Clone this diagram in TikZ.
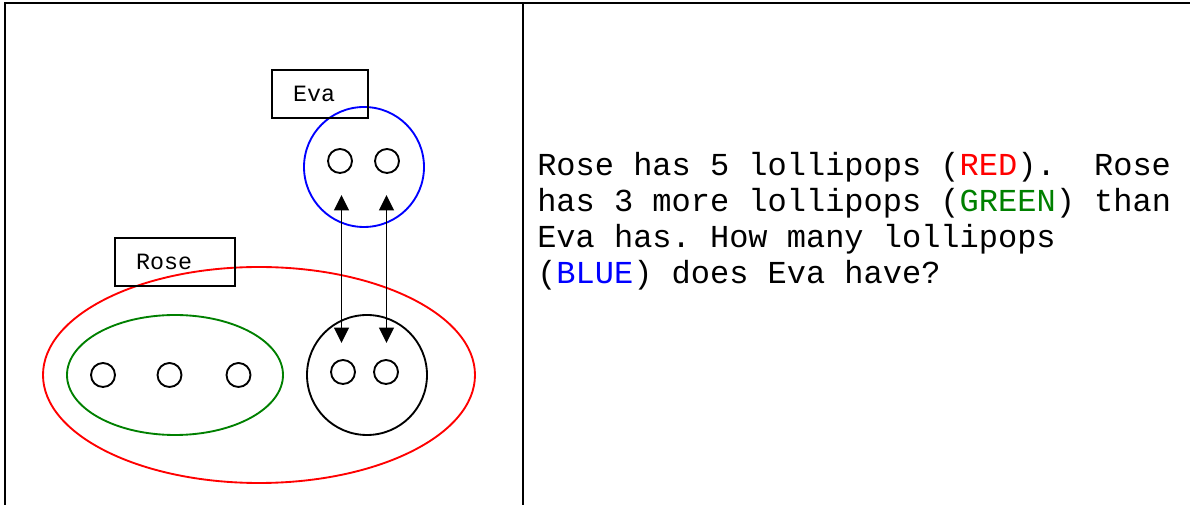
\documentclass[tikz,border=0pt]{standalone}
\usepackage{fontspec}
\setmonofont{Liberation Mono}
\usetikzlibrary{arrows.meta,shapes.geometric}
\definecolor{rgreen}{RGB}{0,128,0}
\begin{document}
\begin{tikzpicture}[x=0.75pt,y=-0.75pt,
  frameline/.style={line width=1.7pt},
  outl/.style={draw, line width=1.4pt, inner sep=0pt},
  dot/.style={circle, draw, line width=1.4pt, inner sep=0pt, minimum size=18pt},
  lbl/.style={draw, line width=1.4pt, rectangle, font=\ttfamily\fontsize{17.5}{20}\selectfont,
    minimum height=36pt, align=left, inner xsep=15.75pt, inner ysep=0pt},
  link/.style={{Triangle[length=11.5pt,width=11pt]}-{Triangle[length=11.5pt,width=11pt]}, line width=1.4pt},
  txt/.style={font=\ttfamily\fontsize{24}{27}\selectfont, anchor=base west, inner sep=0pt}
]
\useasboundingbox (0,0) rectangle (1190,505);
% frame
\coordinate (fbl) at (5,506);
\coordinate (ftl) at (5,3);
\coordinate (ftr) at (1191,3);
\coordinate (fmt) at (523,3);
\coordinate (fmb) at (523,506);
\draw[frameline] (fbl) -- (ftl) -- (ftr);
\draw[frameline] (fmt) -- (fmb);

% Rose
\node[outl, ellipse, draw=red, minimum width=324pt, minimum height=162pt] (rose) at (259,375) {};
\node[outl, ellipse, draw=rgreen, minimum width=162pt, minimum height=90pt] (green) at (175,375) {};
\node[dot] (g1) at (103,375) {};
\node[dot] (g2) at (169.5,375) {};
\node[dot] (g3) at (238.5,375) {};
\node[outl, circle, draw=black, minimum size=90pt] (common) at (367,375) {};
\node[dot] (c1) at (343,372) {};
\node[dot] (c2) at (386,372) {};
\node[lbl, minimum width=90pt, text width=58.5pt] (roselbl) at (175,262) {Rose};

% Eva
\node[outl, circle, draw=blue, minimum size=90pt] (eva) at (364,167) {};
\node[dot] (e1) at (340,161) {};
\node[dot] (e2) at (387,161) {};
\node[lbl, minimum width=72pt, text width=40.5pt] (evalbl) at (320,94) {Eva};

% arrows
\coordinate (a1t) at (341.5,195);
\coordinate (a1b) at (341.5,343);
\coordinate (a2t) at (386.5,195);
\coordinate (a2b) at (386.5,343);
\draw[link] (a1t) -- (a1b);
\draw[link] (a2t) -- (a2b);

% text
\node[txt] (t1) at (537,176) {Rose has 5 lollipops (\textcolor{red}{RED}).\ \ Rose};
\node[txt] (t2) at (537,212) {has 3 more lollipops (\textcolor{rgreen}{GREEN}) than};
\node[txt] (t3) at (537,248) {Eva has. How many lollipops};
\node[txt] (t4) at (537,284) {(\textcolor{blue}{BLUE}) does Eva have?};
\end{tikzpicture}
\end{document}
